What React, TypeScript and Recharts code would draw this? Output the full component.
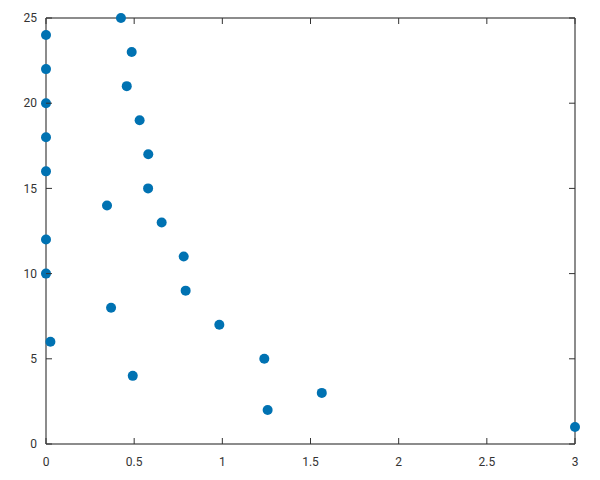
import React from "react";
import { ScatterChart, Scatter, XAxis, YAxis } from "recharts";

const xValues = [3, 1.257, 1.564, 0.492, 1.238, 0.025, 0.983, 0.369, 0.792, 0, 0.781, 0, 0.656, 0.346, 0.579, 0, 0.58, 0, 0.531, 0, 0.458, 0, 0.486, 0, 0.425];
const yValues = [1, 2, 3, 4, 5, 6, 7, 8, 9, 10, 11, 12, 13, 14, 15, 16, 17, 18, 19, 20, 21, 22, 23, 24, 25];
const xTicks = [0, 0.5, 1, 1.5, 2, 2.5, 3];
const yTicks = [0, 5, 10, 15, 20, 25];

const data = xValues.map((x, i) => ({ x, y: yValues[i] }));

const LABEL = { fontFamily: "Roboto, sans-serif", fontSize: 12, fill: "#333" };
const TICK = "#333";
const AXIS = { stroke: "#666", strokeWidth: 1.5 };

const BottomTick = (p: any) => (
  <g>
    <rect x={p.x - 0.5} y={p.y - 6} width={1} height={6} fill={TICK} />
    <text x={p.x} y={p.y + 13} dy="0.71em" textAnchor="middle" {...LABEL}>
      {p.payload.value}
    </text>
  </g>
);
const TopTick = (p: any) => <rect x={p.x - 0.5} y={p.y} width={1} height={6} fill={TICK} />;
const LeftTick = (p: any) => (
  <g>
    <rect x={p.x} y={p.y - 0.5} width={6} height={1} fill={TICK} />
    <text x={p.x - 9} y={p.y} dy="0.35em" textAnchor="end" {...LABEL}>
      {p.payload.value}
    </text>
  </g>
);
const RightTick = (p: any) => <rect x={p.x - 6} y={p.y - 0.5} width={6} height={1} fill={TICK} />;

const Dot = (p: any) => <circle cx={p.cx} cy={p.cy} r={5} fill="#0072b2" />;
const NoDot = () => <g />;

export default function App() {
  return (
    <ScatterChart width={600} height={480} margin={{ top: 9, right: 32, bottom: 14, left: 8 }}>
      <XAxis xAxisId="b" type="number" dataKey="x" domain={[0, 3]} ticks={xTicks} tick={<BottomTick />} tickLine={false} tickSize={0} tickMargin={0} axisLine={AXIS} height={30} interval={0} />
      <XAxis xAxisId="t" orientation="top" type="number" dataKey="x" domain={[0, 3]} ticks={xTicks} tick={<TopTick />} tickLine={false} tickSize={0} tickMargin={0} axisLine={AXIS} height={1} interval={0} />
      <YAxis yAxisId="l" type="number" dataKey="y" domain={[0, 25]} ticks={yTicks} tick={<LeftTick />} tickLine={false} tickSize={0} tickMargin={0} axisLine={AXIS} width={30} interval={0} />
      <YAxis yAxisId="r" orientation="right" type="number" dataKey="y" domain={[0, 25]} ticks={yTicks} tick={<RightTick />} tickLine={false} tickSize={0} tickMargin={0} axisLine={AXIS} width={1} interval={0} />
      <Scatter data={data} xAxisId="t" yAxisId="r" shape={<NoDot />} isAnimationActive={false} />
      <Scatter data={data} xAxisId="b" yAxisId="l" shape={<Dot />} isAnimationActive={false} />
    </ScatterChart>
  );
}
